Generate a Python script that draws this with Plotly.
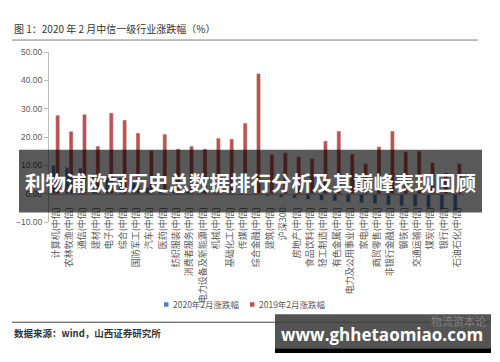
import plotly.graph_objects as go

categories = ["计算机(中信)", "农林牧渔(中信)", "通信(中信)", "建材(中信)", "电子(中信)", "综合(中信)",
              "国防军工(中信)", "汽车(中信)", "医药(中信)", "纺织服装(中信)", "消费者服务(中信)",
              "电力设备及新能源(中信)", "机械(中信)", "基础化工(中信)", "传媒(中信)", "综合金融(中信)",
              "建筑(中信)", "沪深300", "房地产(中信)", "食品饮料(中信)", "轻工制造(中信)", "有色金属(中信)",
              "电力及公用事业(中信)", "家电(中信)", "商贸零售(中信)", "非银行金融(中信)", "钢铁(中信)",
              "交通运输(中信)", "煤炭(中信)", "银行(中信)", "石油石化(中信)"]
chg_2020 = [10.0, 9.2, 9.0, 7.0, 6.0, 5.5, 4.0, 2.2, 1.8, 1.2, 0.9, 0.6, 0.3, 0.1, -0.2, -0.5,
            -0.8, -1.2, -1.6, -2.0, -2.3, -2.6, -3.0, -3.2, -3.5, -4.0, -4.3, -4.6, -5.0, -5.5, -6.0]
chg_2019 = [27.7, 22.0, 28.0, 16.8, 28.5, 26.0, 21.4, 15.2, 21.0, 15.8, 16.8, 15.8, 19.6, 19.3, 24.9,
            42.4, 13.8, 14.4, 13.0, 12.4, 18.6, 22.1, 14.0, 10.6, 16.6, 22.1, 14.8, 15.0, 10.9, 7.4, 10.6]
y_ticks = [-10, 0, 10, 20, 30, 40, 50]
series_names = ["2020年2月涨跌幅", "2019年2月涨跌幅"]
series_colors = ["#4F81BD", "#C0504D"]

W, H = 500, 362
L, R, T, B = 49, 36, 52, 139.5
pw, ph = W - L - R, H - T - B

def px(x):
    return (x - L) / pw

def py(y):
    return (H - B - y) / ph

fig = go.Figure()
for vals, name, col in zip([chg_2020, chg_2019], series_names, series_colors):
    fig.add_trace(go.Bar(x=categories, y=vals, name=name, marker_color=col, showlegend=False))

font_cjk = "Noto Sans CJK SC"

fig.update_layout(
    width=W, height=H,
    margin=dict(l=L, r=R, t=T, b=B, pad=0),
    paper_bgcolor="white", plot_bgcolor="white",
    barmode="group", bargap=0.4, bargroupgap=0,
    font=dict(family=font_cjk, size=8, color="#595959"),
    showlegend=False,
    xaxis=dict(anchor="free", position=py(194), showline=True, linecolor="#BFBFBF", linewidth=1,
               tickangle=-90, ticks="outside", ticklen=9, tickcolor="rgba(0,0,0,0)",
               tickfont=dict(size=9, color="#595959"), showgrid=False, fixedrange=True),
    yaxis=dict(range=[-10, 50], tickvals=y_ticks, tickformat=".2f", showgrid=False,
               zeroline=False, showline=True, linecolor="#BFBFBF", linewidth=1,
               ticks="outside", ticklen=4, tickcolor="#BFBFBF",
               tickfont=dict(family="Liberation Sans", size=8.5, color="#595959")),
)

# legend (custom, small squares)
legend_x = [164, 250]
shapes = []
annotations = []
for lx, name, col in zip(legend_x, series_names, series_colors):
    shapes.append(dict(type="rect", xref="paper", yref="paper", x0=px(lx), x1=px(lx + 4.5),
                       y0=py(307.5), y1=py(303), fillcolor=col, line=dict(width=0)))
    annotations.append(dict(text=name, x=px(lx + 6.5), y=py(305), xref="paper", yref="paper",
                            xanchor="left", yanchor="middle", showarrow=False,
                            font=dict(family=font_cjk, size=8.5, color="#595959")))

shapes += [
    dict(type="line", xref="paper", yref="paper", x0=px(12), x1=px(478), y0=py(40), y1=py(40),
         line=dict(color="#7F7F7F", width=1)),
    dict(type="line", xref="paper", yref="paper", x0=px(12), x1=px(490), y0=py(323), y1=py(323),
         line=dict(color="#404040", width=1)),
    dict(type="rect", xref="paper", yref="paper", x0=px(19), x1=px(482), y0=py(213), y1=py(150),
         fillcolor="rgba(0,0,0,0.65)", line=dict(width=0), layer="above"),
    dict(type="rect", xref="paper", yref="paper", x0=px(275), x1=px(491), y0=py(349), y1=py(315),
         fillcolor="rgba(60,60,60,0.88)", line=dict(width=0), layer="above"),
    dict(type="rect", xref="paper", yref="paper", x0=px(275), x1=px(491), y0=py(354), y1=py(349),
         fillcolor="#000000", line=dict(width=0), layer="above"),
]
fig.update_layout(shapes=shapes)

annotations += [
    dict(text="图 1：2020 年 2 月中信一级行业涨跌幅（%）", x=px(12), y=py(28), xref="paper", yref="paper",
         xanchor="left", yanchor="middle", showarrow=False,
         font=dict(family=font_cjk, size=10, color="#333333")),
    dict(text="<b>数据来源：wind，山西证券研究所</b>", x=px(12), y=py(334), xref="paper", yref="paper",
         xanchor="left", yanchor="middle", showarrow=False,
         font=dict(family=font_cjk, size=9.5, color="#333333")),
    dict(text="<b>利物浦欧冠历史总数据排行分析及其巅峰表现回顾</b>", x=px(250.5), y=py(182),
         xref="paper", yref="paper", xanchor="center", yanchor="middle", showarrow=False,
         font=dict(family=font_cjk, size=20.5, color="white")),
    dict(text="物流资本论", x=px(488), y=py(322), xref="paper", yref="paper",
         xanchor="right", yanchor="middle", showarrow=False,
         font=dict(family=font_cjk, size=11, color="rgba(170,170,170,0.55)")),
    dict(text="<b>www.ghhetaomiao.com</b>", x=px(382), y=py(335), xref="paper", yref="paper",
         xanchor="center", yanchor="middle", showarrow=False,
         font=dict(family="Open Sans", size=17, color="white")),
]
fig.update_layout(annotations=annotations)

fig.write_html("out.html")
